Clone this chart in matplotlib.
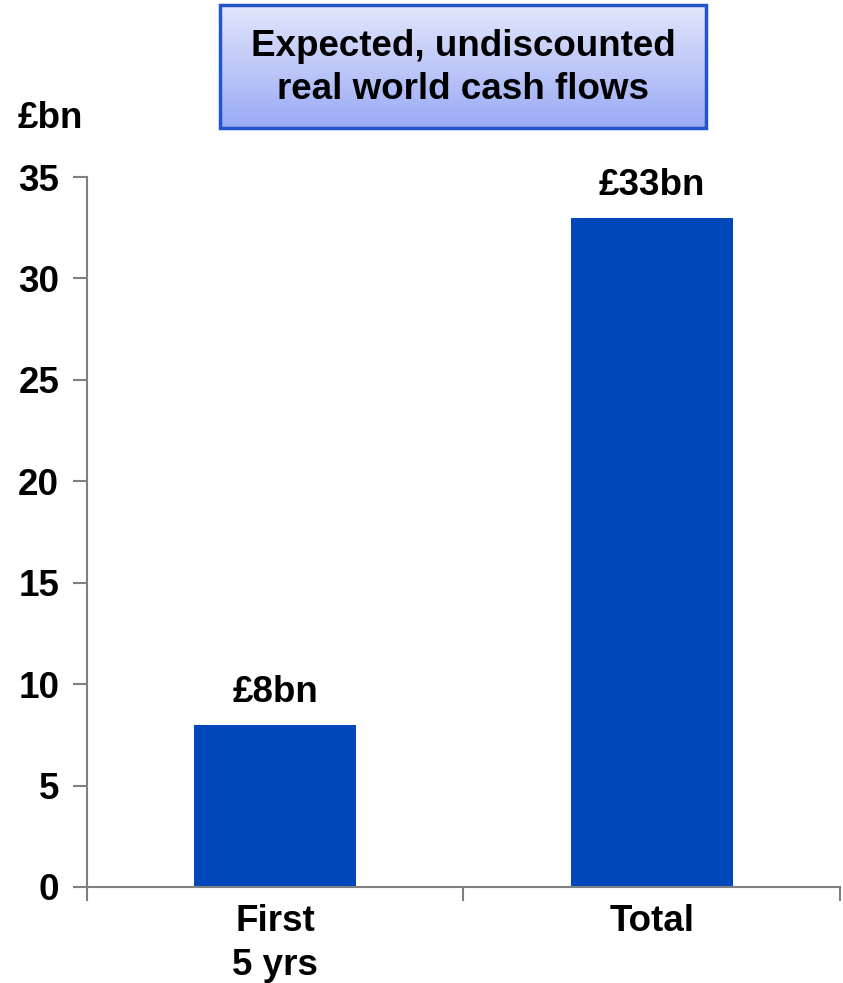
import numpy as np
import matplotlib
matplotlib.use("Agg")
import matplotlib.pyplot as plt
from matplotlib.colors import LinearSegmentedColormap
from matplotlib.patches import Rectangle

categories = ["First\n5 yrs", "Total"]
cash_flows = [8, 33]
value_labels = ["£8bn", "£33bn"]
yticks = [0, 5, 10, 15, 20, 25, 30, 35]

plt.rcParams["font.family"] = ["Liberation Sans", "DejaVu Sans"]
plt.rcParams["font.weight"] = "bold"
FS = 26.5

fig = plt.figure(figsize=(8.43, 9.83), dpi=100)
ax = fig.add_axes([0.1032, 0.0977, 0.8932, 0.7222])

x = np.arange(len(categories))
ax.bar(x, cash_flows, width=0.43, color="#0047BB")
for xi, v, lab in zip(x, cash_flows, value_labels):
    ax.text(xi, v + 0.7, lab, ha="center", va="bottom", fontsize=FS, fontweight="bold")

ax.set_xlim(-0.5, 1.5)
ax.set_ylim(0, 35)
ax.set_yticks(yticks)
ax.set_yticklabels([str(t) for t in yticks], fontsize=FS, fontweight="bold")
ax.set_xticks(x)
ax.set_xticklabels(categories, fontsize=FS, fontweight="bold", linespacing=1.35)
ax.tick_params(axis="x", length=0, pad=12)
ax.set_xticks([-0.5, 0.5, 1.5], minor=True)
ax.tick_params(axis="x", which="minor", length=10, color="#808080", width=1.5)
ax.tick_params(axis="y", length=10, color="#808080", width=1.5, pad=10)

for side in ["top", "right"]:
    ax.spines[side].set_visible(False)
for side in ["left", "bottom"]:
    ax.spines[side].set_color("#808080")
    ax.spines[side].set_linewidth(1.5)

fig.text(18 / 843, 1 - 118 / 983, "£bn", fontsize=FS, fontweight="bold", va="center", ha="left")

# title box with vertical gradient
bx0, bx1, by0, by1 = 220 / 843, 706 / 843, 1 - 128 / 983, 1 - 5 / 983
tax = fig.add_axes([bx0, by0, bx1 - bx0, by1 - by0])
cmap = LinearSegmentedColormap.from_list("box", ["#9aaaf5", "#e2e6fc"])
grad = np.linspace(0, 1, 256).reshape(-1, 1)
tax.imshow(grad, aspect="auto", cmap=cmap, origin="lower", extent=[0, 1, 0, 1])
tax.add_patch(Rectangle((0, 0), 1, 1, fill=False, edgecolor="#2255cc", linewidth=2.5,
                        transform=tax.transAxes, clip_on=False))
tax.set_xlim(0, 1)
tax.set_ylim(0, 1)
tax.axis("off")
tax.text(0.5, 0.49, "Expected, undiscounted\nreal world cash flows", ha="center", va="center",
         fontsize=FS, fontweight="bold", linespacing=1.3)

fig.savefig("out.png", dpi=100)
